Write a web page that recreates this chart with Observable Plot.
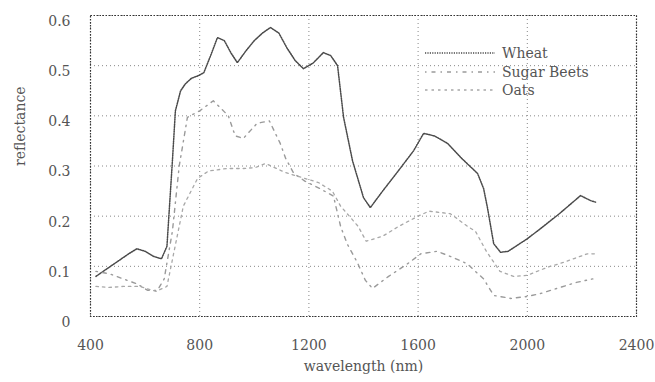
<!DOCTYPE html>
<html>
<head>
<meta charset="utf-8">
<script src="https://cdn.jsdelivr.net/npm/d3@7"></script>
<script src="https://cdn.jsdelivr.net/npm/@observablehq/plot@0.6"></script>
<style>
  html, body { margin: 0; padding: 0; background: #fff; }
  #wrap { position: relative; width: 655px; height: 382px; }
  #legend { position: absolute; left: 425px; top: 44px; font-family: "DejaVu Serif", serif; font-size: 14px; color: #555; }
  #legend .row { display: flex; align-items: center; height: 18.5px; }
  #legend svg { width: 72px; height: 6px; margin-right: 5px; }
</style>
</head>
<body>
<div id="wrap"></div>
<script>
const xTicks = [400, 800, 1200, 1600, 2000, 2400];
const yTicks = [0, 0.1, 0.2, 0.3, 0.4, 0.5, 0.6];
const seriesNames = ["Wheat", "Sugar Beets", "Oats"];

const wheatWl = [420,460,500,540,570,600,630,660,680,700,711,730,748,770,795,815,840,865,890,915,938,970,1000,1030,1059,1090,1120,1150,1180,1215,1253,1280,1305,1327,1360,1400,1425,1470,1520,1583,1620,1660,1708,1760,1818,1840,1854,1877,1902,1930,2000,2060,2122,2195,2232,2250];
const wheatR  = [0.08,0.095,0.11,0.125,0.135,0.13,0.12,0.115,0.14,0.31,0.41,0.45,0.464,0.475,0.48,0.486,0.52,0.556,0.55,0.525,0.506,0.53,0.55,0.565,0.576,0.565,0.535,0.51,0.494,0.505,0.526,0.52,0.5,0.397,0.31,0.237,0.217,0.25,0.285,0.33,0.365,0.36,0.345,0.315,0.285,0.255,0.217,0.145,0.128,0.13,0.155,0.18,0.207,0.241,0.231,0.228];

const beetsWl = [420,470,520,570,610,645,670,700,725,755,800,850,905,930,960,1010,1055,1095,1115,1145,1185,1240,1290,1316,1340,1377,1407,1433,1492,1561,1610,1670,1726,1780,1840,1877,1940,2000,2050,2120,2180,2240];
const beetsR  = [0.09,0.085,0.075,0.065,0.052,0.052,0.075,0.17,0.3,0.397,0.41,0.43,0.4,0.36,0.355,0.385,0.39,0.345,0.315,0.285,0.27,0.255,0.24,0.18,0.145,0.108,0.072,0.056,0.08,0.105,0.125,0.13,0.118,0.105,0.075,0.042,0.036,0.04,0.046,0.058,0.068,0.075];

const oatsWl = [420,470,520,580,640,680,710,740,792,832,900,960,1004,1041,1114,1187,1235,1286,1316,1380,1410,1470,1530,1600,1640,1718,1780,1810,1850,1900,1950,2000,2073,2133,2220,2260];
const oatsR  = [0.06,0.058,0.06,0.06,0.05,0.06,0.14,0.22,0.275,0.29,0.295,0.295,0.297,0.305,0.287,0.275,0.267,0.25,0.22,0.18,0.15,0.16,0.18,0.2,0.21,0.205,0.18,0.17,0.13,0.09,0.08,0.082,0.098,0.108,0.125,0.125];

const styles = {
  "Wheat":       {stroke: "#4a4a4a", dash: "1.2,1.2", width: 1.5},
  "Sugar Beets": {stroke: "#9a9a9a", dash: "1.5,5,4,5", width: 1.4},
  "Oats":        {stroke: "#a8a8a8", dash: "2.5,4", width: 1.3}
};

const toRows = (name, wl, r) => wl.map((w, i) => ({series: name, wl: w, r: r[i]}));
const rows = {
  "Wheat": toRows("Wheat", wheatWl, wheatR),
  "Sugar Beets": toRows("Sugar Beets", beetsWl, beetsR),
  "Oats": toRows("Oats", oatsWl, oatsR)
};

const font = "DejaVu Serif, serif";

const chart = Plot.plot({
  width: 655,
  height: 382,
  marginLeft: 90,
  marginRight: 19,
  marginTop: 15,
  marginBottom: 66,
  style: {fontFamily: font, fontSize: "14px", color: "#555", background: "#fff"},
  x: {domain: [400, 2400], ticks: xTicks},
  y: {domain: [0, 0.6], ticks: yTicks},
  marks: [
    Plot.gridX(xTicks, {stroke: "#888", strokeOpacity: 1, strokeDasharray: "1,3"}),
    Plot.gridY(yTicks, {stroke: "#888", strokeOpacity: 1, strokeDasharray: "1,3"}),
    Plot.frame({stroke: "#333", strokeDasharray: "1.5,1.5", strokeWidth: 1.2}),
    Plot.axisX(xTicks, {tickSize: 0, tickPadding: 24, label: null, fontSize: 14, tickFormat: d => String(d)}),
    Plot.axisY(yTicks, {tickSize: 0, tickPadding: 20, dy: 6, label: null, fontSize: 14, tickFormat: d => d === 0 ? "0" : d3.format(".1f")(d)}),
    ...seriesNames.map(n => Plot.line(rows[n], {
      x: "wl", y: "r",
      stroke: styles[n].stroke,
      strokeWidth: styles[n].width,
      strokeDasharray: styles[n].dash
    })),
    Plot.text(["wavelength (nm)"], {frameAnchor: "bottom", dy: 54, fontSize: 14, fill: "#555"}),
    Plot.text(["reflectance"], {frameAnchor: "left", dx: -70, rotate: -90, fontSize: 14, fill: "#555"})
  ]
});

const wrap = document.getElementById("wrap");
wrap.appendChild(chart);

const legend = document.createElement("div");
legend.id = "legend";
for (const n of seriesNames) {
  const row = document.createElement("div");
  row.className = "row";
  const s = styles[n];
  row.innerHTML = `<svg viewBox="0 0 72 6"><line x1="0" y1="3" x2="70" y2="3" stroke="${s.stroke}" stroke-width="${s.width}" stroke-dasharray="${s.dash}"/></svg><span>${n}</span>`;
  legend.appendChild(row);
}
wrap.appendChild(legend);
</script>
</body>
</html>
